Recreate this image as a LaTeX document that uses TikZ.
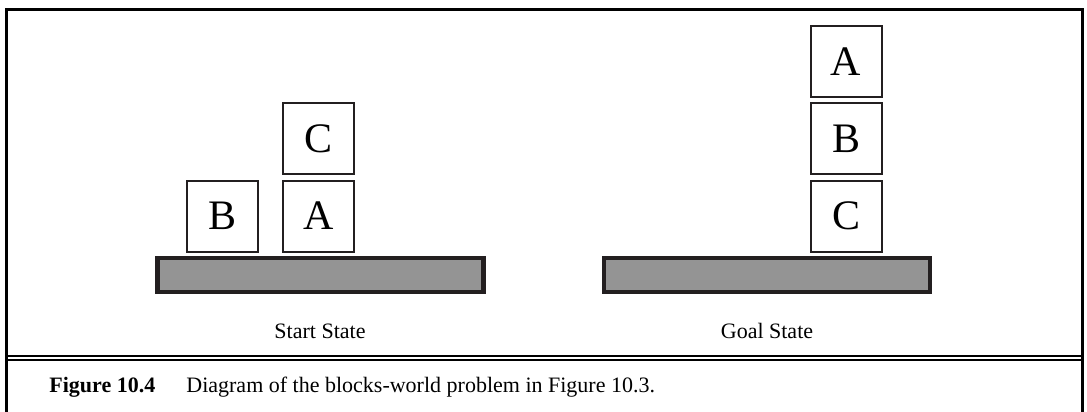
\documentclass[tikz,border=0pt]{standalone}
\usepackage{fontspec}
\setmainfont{Liberation Serif}
\usepackage{tikz}
\usetikzlibrary{positioning}
\definecolor{ink}{HTML}{231F20}
\definecolor{tablegray}{HTML}{949494}
\tikzset{
  frame/.style={line width=1.5pt,draw=black},
  rule/.style={line width=1pt,draw=black},
  block/.style={draw=ink,line width=1pt,minimum size=35.5pt,inner sep=0pt,
                font=\fontsize{21}{21}\selectfont},
  table/.style={draw=ink,fill=tablegray,line width=2.25pt,minimum width=163pt,
                minimum height=17pt,inner sep=0pt},
  label/.style={font=\fontsize{11}{13}\selectfont,inner sep=0pt},
  caption/.style={font=\fontsize{11}{13}\selectfont,inner sep=0pt,anchor=base west}
}
\begin{document}
\begin{tikzpicture}[x=0.5pt,y=-0.5pt]
  \useasboundingbox (0,0) rectangle (1087,412);
  % Outer frame and rule
  \draw[frame] (6,412) -- (6,9) -- (1082,9) -- (1082,412);
  \coordinate (ruleL) at (6,356);
  \coordinate (ruleR) at (1082,356);
  \draw[rule] (ruleL) -- (ruleR);
  \draw[rule] ([yshift=-2pt]ruleL) -- ([yshift=-2pt]ruleR);

  % Start state
  \node[table] (tableS) at (320.5,275) {};
  \node[block] (blkB) at (222.5,216) {B};
  \node[block] (blkA) at (318.7,216) {A};
  \node[block,above=2.2pt of blkA] (blkC) {C};
  \node[label] (startS) at (320,331) {Start State};

  % Goal state
  \node[table] (tableG) at (767,275) {};
  \node[block] (goalC) at (846,216) {C};
  \node[block,above=2.2pt of goalC] (goalB) {B};
  \node[block,above=2.2pt of goalB] (goalA) {A};
  \node[label] (goalS) at (767,331) {Goal State};

  % Caption
  \node[caption] (capNum) at (49,392) {\bfseries Figure 10.4};
  \node[caption] (capText) at (186,392) {Diagram of the blocks-world problem in Figure 10.3.};
\end{tikzpicture}
\end{document}
